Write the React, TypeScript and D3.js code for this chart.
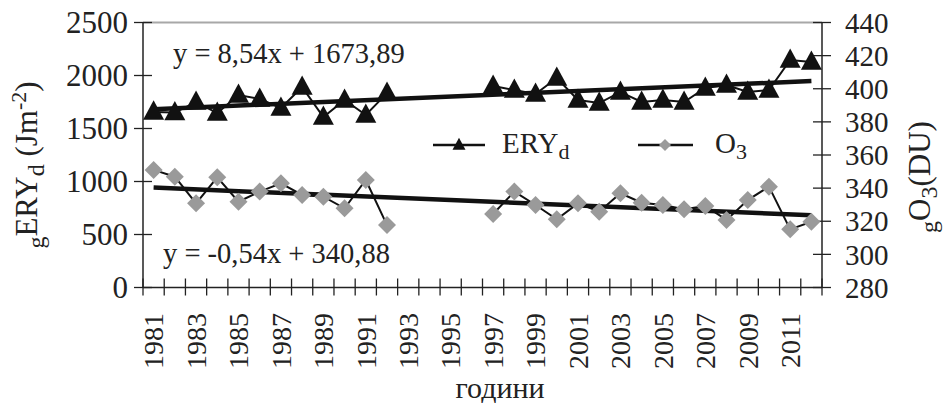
import React from "react";
import * as d3 from "d3";

const years: string[] = [
  "1981", "1982", "1983", "1984", "1985", "1986", "1987", "1988", "1989", "1990",
  "1991", "1992", "1993", "1994", "1995", "1996", "1997", "1998", "1999", "2000",
  "2001", "2002", "2003", "2004", "2005", "2006", "2007", "2008", "2009", "2010",
  "2011", "2012",
];

const eryValues: (number | null)[] = [
  1656, 1650, 1750, 1645, 1816, 1778, 1693, 1891, 1608, 1769,
  1627, 1834, null, null, null, null, 1900, 1863, 1825, 1976,
  1769, 1740, 1844, 1750, 1769, 1750, 1882, 1910, 1844, 1863,
  2146, 2127,
];

const o3Values: (number | null)[] = [
  351, 346.9, 330.8, 346.5, 331.8, 337.9, 342.9, 335.9, 334.8, 327.8,
  344.9, 317.7, null, null, null, null, 324.4, 337.9, 329.8, 321.2,
  330.8, 325.8, 336.9, 331.2, 329.8, 327.2, 329.2, 320.8, 332.8, 340.9,
  315.1, 319.7,
];

const leftTicks: number[] = [0, 500, 1000, 1500, 2000, 2500];
const rightTicks: number[] = [280, 300, 320, 340, 360, 380, 400, 420, 440];
const yearLabels: string[] = [
  "1981", "1983", "1985", "1987", "1989", "1991", "1993", "1995", "1997", "1999",
  "2001", "2003", "2005", "2007", "2009", "2011",
];

const eryTrendSlope = 8.54;
const eryTrendIntercept = 1673.89;
const o3TrendSlope = -0.54;
const o3TrendIntercept = 340.88;

const FONT = '"Liberation Serif", "Times New Roman", "DejaVu Serif", serif';

export default function App() {
  const W = 943;
  const H = 403;
  const left = 143;
  const right = 822;
  const top = 22.5;
  const bottom = 287.5;

  const x = d3.scaleBand<string>().domain(years).range([left, right]).paddingInner(0).paddingOuter(0);
  const cx = (y: string) => (x(y) as number) + x.bandwidth() / 2;
  const yL = d3.scaleLinear().domain([0, 2500]).range([bottom, top]);
  const yR = d3.scaleLinear().domain([280, 440]).range([bottom, top]);

  const eryPts = years.map((yr, i) => ({ yr, v: eryValues[i] }));
  const o3Pts = years.map((yr, i) => ({ yr, v: o3Values[i] }));

  const eryLine = d3
    .line<{ yr: string; v: number | null }>()
    .defined((d) => d.v !== null)
    .x((d) => cx(d.yr))
    .y((d) => yL(d.v as number));
  const o3Line = d3
    .line<{ yr: string; v: number | null }>()
    .defined((d) => d.v !== null)
    .x((d) => cx(d.yr))
    .y((d) => yR(d.v as number));

  const n = years.length;
  const eryTrend = [1, n].map((i) => [cx(years[i - 1]), yL(eryTrendSlope * i + eryTrendIntercept)] as [number, number]);
  const o3Trend = [1, n].map((i) => [cx(years[i - 1]), yR(o3TrendSlope * i + o3TrendIntercept)] as [number, number]);
  const straight = d3.line();

  const tri = (s: number) => {
    const h = s * 0.92;
    return `M0,${-h * 0.6}L${s / 2},${h * 0.4}L${-s / 2},${h * 0.4}Z`;
  };
  const dia = (r: number) => `M0,${-r}L${r},0L0,${r}L${-r},0Z`;
  const gray = "#9a9a9a";
  const ts = { fontFamily: FONT };

  const boundaries = d3.range(0, n + 1).map((i) => left + i * x.bandwidth());

  return (
    <svg width={W} height={H} style={{ position: "absolute", left: 0, top: 0, background: "#fff", fontFamily: FONT }}>
      <rect x={0} y={0} width={W} height={H} fill="#fff" />
      <line x1={left} x2={right} y1={top} y2={top} stroke="#a8a8a8" strokeWidth={2} />
      <line x1={left} x2={left} y1={top} y2={bottom} stroke="#222" strokeWidth={1.5} />
      <line x1={right} x2={right} y1={top} y2={bottom} stroke="#222" strokeWidth={1.5} />
      <line x1={left} x2={right} y1={bottom} y2={bottom} stroke="#222" strokeWidth={1.5} />
      {leftTicks.map((t) => (
        <g key={"l" + t}>
          <line x1={left - 9} x2={left + 9} y1={yL(t)} y2={yL(t)} stroke="#222" strokeWidth={1.3} />
          <text x={128} y={yL(t)} dy="0.35em" textAnchor="end" fontSize={31} fill="#222" style={ts}>{t}</text>
        </g>
      ))}
      {rightTicks.map((t) => (
        <g key={"r" + t}>
          <line x1={right - 9} x2={right + 9} y1={yR(t)} y2={yR(t)} stroke="#222" strokeWidth={1.3} />
          <text x={845} y={yR(t)} dy="0.35em" textAnchor="start" fontSize={29} fill="#222" style={ts}>{t}</text>
        </g>
      ))}
      {boundaries.map((b, i) => (
        <line key={"b" + i} x1={b} x2={b} y1={bottom - 9} y2={bottom + 8} stroke="#222" strokeWidth={1.3} />
      ))}
      {yearLabels.map((yr) => (
        <text key={yr} transform={`translate(${cx(yr)},313) rotate(-90)`} dy="0.35em" textAnchor="end" fontSize={28} fill="#222" style={ts}>
          {yr}
        </text>
      ))}
      <path d={straight(eryTrend) as string} stroke="#111" strokeWidth={4.5} fill="none" />
      <path d={straight(o3Trend) as string} stroke="#111" strokeWidth={4.5} fill="none" />
      <path d={eryLine(eryPts) as string} stroke="#111" strokeWidth={2} fill="none" />
      <path d={o3Line(o3Pts) as string} stroke="#111" strokeWidth={2} fill="none" />
      {o3Pts.filter((d) => d.v !== null).map((d) => (
        <path key={"o" + d.yr} d={dia(9)} transform={`translate(${cx(d.yr)},${yR(d.v as number)})`} fill={gray} />
      ))}
      {eryPts.filter((d) => d.v !== null).map((d) => (
        <path key={"e" + d.yr} d={tri(21)} transform={`translate(${cx(d.yr)},${yL(d.v as number)})`} fill="#111" />
      ))}
      <text x={173} y={63} fontSize={28.5} fill="#222" style={ts}>y = 8,54x + 1673,89</text>
      <text x={163} y={263} fontSize={28.5} fill="#222" style={ts}>y = -0,54x + 340,88</text>
      <line x1={433} x2={485} y1={145} y2={145} stroke="#111" strokeWidth={2.5} />
      <path d={tri(13)} transform="translate(459,145)" fill="#111" />
      <text x={502} y={153} fontSize={29} fill="#222" style={ts}>
        ERY<tspan dy={6} fontSize={22}>d</tspan>
      </text>
      <line x1={638} x2={693} y1={145} y2={145} stroke="#111" strokeWidth={2.5} />
      <path d={dia(6)} transform="translate(665,145)" fill={gray} />
      <text x={715} y={153} fontSize={29} fill="#222" style={ts}>
        O<tspan dy={6} fontSize={22}>3</tspan>
      </text>
      <text transform="translate(37,165) rotate(-90)" textAnchor="middle" fontSize={31} fill="#222" style={ts}>
        <tspan dy={7} fontSize={24}>g</tspan>
        <tspan dy={-7}>ERY</tspan>
        <tspan dy={7} fontSize={24}>d</tspan>
        <tspan dy={-7}> (Jm</tspan>
        <tspan dy={-11} fontSize={22}>-2</tspan>
        <tspan dy={11}>)</tspan>
      </text>
      <text transform="translate(930,177) rotate(-90)" textAnchor="middle" fontSize={31} fill="#222" style={ts}>
        <tspan dy={7} fontSize={24}>g</tspan>
        <tspan dy={-7}>O</tspan>
        <tspan dy={7} fontSize={24}>3</tspan>
        <tspan dy={-7}>(DU)</tspan>
      </text>
      <text x={500} y={398} textAnchor="middle" fontSize={30} fill="#222" style={ts}>години</text>
    </svg>
  );
}
